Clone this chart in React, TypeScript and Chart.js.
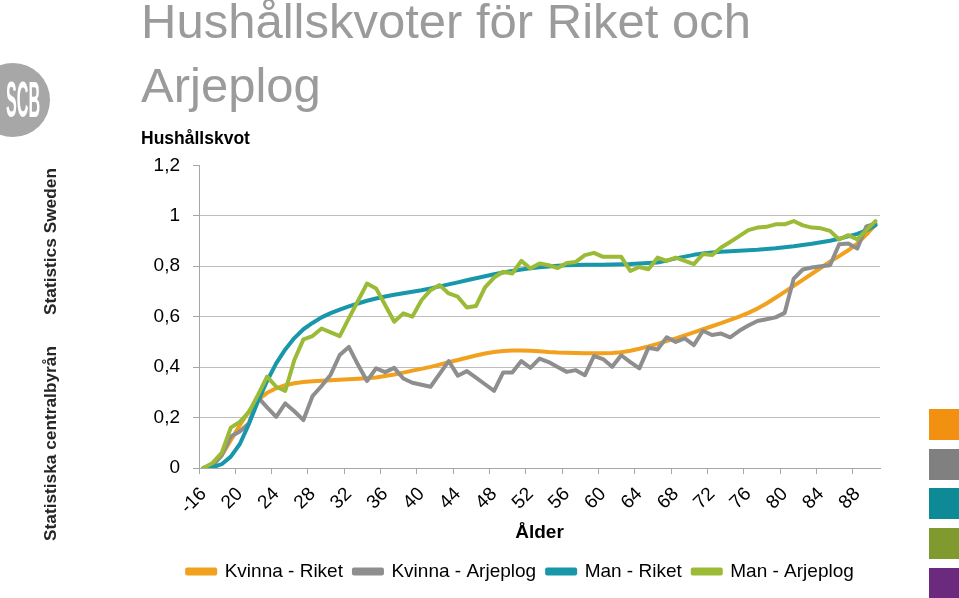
import React, { useEffect, useRef } from 'react';
import { Chart, registerables } from 'chart.js';

Chart.register(...registerables);

const FONT = "'Liberation Sans', Arial, sans-serif";

const ages: string[] = [
  '-16', '17', '18', '19', '20', '21', '22', '23', '24', '25', '26', '27', '28', '29', '30',
  '31', '32', '33', '34', '35', '36', '37', '38', '39', '40', '41', '42', '43', '44', '45',
  '46', '47', '48', '49', '50', '51', '52', '53', '54', '55', '56', '57', '58', '59', '60',
  '61', '62', '63', '64', '65', '66', '67', '68', '69', '70', '71', '72', '73', '74', '75',
  '76', '77', '78', '79', '80', '81', '82', '83', '84', '85', '86', '87', '88', '89', '90',
];

const kvinnaRiket: number[] = [
  0, 0.01, 0.05, 0.11, 0.17, 0.225, 0.27, 0.298, 0.316, 0.328, 0.336, 0.341, 0.344, 0.346, 0.348,
  0.35, 0.352, 0.354, 0.356, 0.359, 0.365, 0.371, 0.378, 0.386, 0.393, 0.401, 0.41, 0.419, 0.428, 0.437,
  0.446, 0.454, 0.46, 0.464, 0.466, 0.466, 0.465, 0.463, 0.46, 0.458, 0.457, 0.456, 0.455, 0.455, 0.455,
  0.456, 0.459, 0.465, 0.473, 0.482, 0.492, 0.503, 0.514, 0.526, 0.538, 0.55, 0.562, 0.574, 0.587, 0.6,
  0.615, 0.632, 0.652, 0.675, 0.698, 0.722, 0.746, 0.77, 0.794, 0.818, 0.84, 0.863, 0.89, 0.925, 0.965,
];

const kvinnaArjeplog: number[] = [
  0, 0.01, 0.05, 0.125, 0.145, 0.178, 0.28, 0.24, 0.203, 0.256, 0.225, 0.19, 0.285, 0.325, 0.37,
  0.448, 0.48, 0.41, 0.345, 0.395, 0.38, 0.397, 0.355, 0.338, 0.33, 0.322, 0.373, 0.424, 0.366, 0.384,
  0.358, 0.332, 0.306, 0.379, 0.379, 0.424, 0.397, 0.434, 0.42, 0.4, 0.381, 0.388, 0.368, 0.444, 0.432,
  0.401, 0.447, 0.42, 0.395, 0.477, 0.47, 0.518, 0.5, 0.514, 0.487, 0.544, 0.527, 0.533, 0.518, 0.544,
  0.565, 0.583, 0.59, 0.597, 0.615, 0.751, 0.787, 0.795, 0.8, 0.804, 0.887, 0.89, 0.87, 0.958, 0.969,
];

const manRiket: number[] = [
  0, 0.003, 0.015, 0.045, 0.095, 0.175, 0.265, 0.345, 0.415, 0.47, 0.515, 0.55, 0.575, 0.597, 0.614,
  0.628, 0.641, 0.652, 0.663, 0.672, 0.68, 0.687, 0.693, 0.699, 0.705, 0.712, 0.72, 0.728, 0.736, 0.744,
  0.752, 0.76, 0.768, 0.775, 0.781, 0.787, 0.792, 0.796, 0.799, 0.802, 0.804, 0.805, 0.806, 0.806, 0.806,
  0.807, 0.808, 0.809, 0.811, 0.813, 0.815, 0.822, 0.831, 0.838, 0.845, 0.85, 0.854, 0.857, 0.859, 0.861,
  0.863, 0.865, 0.868, 0.871, 0.875, 0.879, 0.884, 0.889, 0.895, 0.901, 0.909, 0.918, 0.928, 0.942, 0.962,
];

const manArjeplog: number[] = [
  0, 0.02, 0.06, 0.16, 0.183, 0.222, 0.29, 0.362, 0.322, 0.306, 0.428, 0.51, 0.523, 0.553, 0.538,
  0.523, 0.593, 0.662, 0.731, 0.712, 0.646, 0.58, 0.613, 0.6, 0.665, 0.705, 0.725, 0.692, 0.679, 0.636,
  0.642, 0.716, 0.755, 0.778, 0.771, 0.821, 0.791, 0.811, 0.804, 0.793, 0.813, 0.817, 0.844, 0.853, 0.837,
  0.837, 0.837, 0.781, 0.797, 0.788, 0.834, 0.821, 0.834, 0.821, 0.808, 0.848, 0.844, 0.874, 0.896, 0.919,
  0.943, 0.953, 0.956, 0.966, 0.966, 0.979, 0.962, 0.953, 0.95, 0.94, 0.906, 0.923, 0.906, 0.943, 0.979,
];

const seriesNames: string[] = ['Kvinna - Riket', 'Kvinna - Arjeplog', 'Man - Riket', 'Man - Arjeplog'];
const seriesColors: string[] = ['#F2A11F', '#8E8E8E', '#1897AB', '#9BBB36'];
const titleLines: string[] = ['Hushållskvoter för Riket och', 'Arjeplog'];
const yAxisTitle = 'Hushållskvot';
const xAxisTitle = 'Ålder';
const sideSquares: string[] = ['#F29111', '#808080', '#0E8A96', '#7F9A2F', '#6B2A7E'];

const AXIS_GRAY = '#A6A6A6';
const GRID_GRAY = '#BDBDBD';
const TRANSPARENT = 'rgba(0,0,0,0)';

// nudges the centred legend row to the right, as in the original slide
const legendShift = {
  id: 'legendShift',
  afterLayout(chart: any) {
    const lg = chart.legend;
    if (lg) {
      lg.left += 10;
      lg.right += 10;
    }
  },
};

export default function App() {
  const canvasRef = useRef<HTMLCanvasElement | null>(null);

  useEffect(() => {
    const canvas = canvasRef.current;
    if (!canvas) return;
    const values = [kvinnaRiket, kvinnaArjeplog, manRiket, manArjeplog];
    const chart = new Chart(canvas, {
      type: 'line',
      data: {
        labels: ages,
        datasets: seriesNames.map((name, i) => ({
          label: name,
          data: values[i],
          borderColor: seriesColors[i],
          backgroundColor: seriesColors[i],
          borderWidth: 4,
          pointRadius: 0,
          pointHoverRadius: 0,
          tension: 0,
          fill: false,
          borderJoinStyle: 'round' as const,
          borderCapStyle: 'round' as const,
          order: 4 - i,
        })),
      },
      plugins: [legendShift],
      options: {
        responsive: false,
        maintainAspectRatio: false,
        animation: false,
        events: [],
        layout: { padding: { left: 141, right: 79, top: 0, bottom: 7 } },
        font: { family: FONT },
        plugins: {
          title: {
            display: true,
            text: titleLines,
            align: 'start',
            color: '#9B9B9B',
            font: { family: FONT, size: 49, weight: 'normal', lineHeight: 64 / 49 },
            padding: { top: -8, bottom: 0 },
          },
          subtitle: {
            display: true,
            text: yAxisTitle,
            align: 'start',
            color: '#000000',
            font: { family: FONT, size: 17.5, weight: 'bold', lineHeight: 1.2 },
            padding: { top: 8.8, bottom: 15.5 },
          },
          legend: {
            display: true,
            position: 'bottom',
            labels: {
              boxWidth: 28,
              boxHeight: 4,
              padding: 11,
              color: '#000000',
              font: { family: FONT, size: 19 },
              sort: (a: any, b: any) => a.datasetIndex - b.datasetIndex,
            },
          },
          tooltip: { enabled: false },
        },
        scales: {
          x: {
            type: 'category',
            offset: true,
            afterFit: (scale: any) => {
              scale.height = 83;
            },
            grid: {
              offset: true,
              drawOnChartArea: false,
              drawTicks: true,
              tickLength: 6,
              color: (c: any) => (c.index % 4 === 0 ? AXIS_GRAY : TRANSPARENT),
              tickColor: (c: any) => (c.index % 4 === 0 ? AXIS_GRAY : TRANSPARENT),
            },
            border: { display: true, color: AXIS_GRAY, width: 1 },
            ticks: {
              autoSkip: false,
              maxRotation: 45,
              minRotation: 45,
              padding: 9,
              color: '#000000',
              font: { family: FONT, size: 19 },
              callback: (_v: any, i: number) => (i % 4 === 0 ? ages[i] : ''),
            },
            title: {
              display: true,
              text: xAxisTitle,
              color: '#000000',
              font: { family: FONT, size: 19, weight: 'bold', lineHeight: 1.2 },
              padding: { top: 0, bottom: 7 },
            },
          },
          y: {
            min: 0,
            max: 1.2,
            afterFit: (scale: any) => {
              scale.width = 58;
            },
            grid: {
              color: (c: any) => (c.tick && c.tick.value > 1.1 ? TRANSPARENT : GRID_GRAY),
              tickColor: AXIS_GRAY,
              tickLength: 6,
              drawTicks: true,
            },
            border: { display: true, color: AXIS_GRAY, width: 1 },
            ticks: {
              stepSize: 0.2,
              padding: 13,
              color: '#000000',
              font: { family: FONT, size: 19 },
              callback: (v: any) => String(Math.round(Number(v) * 10) / 10).replace('.', ','),
            },
          },
        },
      },
    } as any);
    return () => chart.destroy();
  }, []);

  return (
    <div
      style={{
        position: 'absolute',
        left: 0,
        top: 0,
        width: 959,
        height: 598,
        overflow: 'hidden',
        background: '#ffffff',
        fontFamily: FONT,
      }}
    >
      <canvas
        ref={canvasRef}
        width={959}
        height={598}
        style={{ position: 'absolute', left: 0, top: 0, width: 959, height: 598 }}
      />
      {/* SCB logo */}
      <div
        style={{
          position: 'absolute',
          left: -24,
          top: 63,
          width: 74,
          height: 74,
          borderRadius: '50%',
          background: '#A7A7A7',
          overflow: 'hidden',
        }}
      >
        <div
          style={{
            position: 'absolute',
            left: 30,
            top: 12,
            fontSize: 45,
            lineHeight: '45px',
            fontWeight: 'bold',
            color: '#ffffff',
            transform: 'scale(0.36, 1.1)',
            transformOrigin: '0 0',
            whiteSpace: 'nowrap',
          }}
        >
          SCB
        </div>
      </div>
      {/* vertical side texts */}
      <div
        style={{
          position: 'absolute',
          left: 39.5,
          top: 541,
          transform: 'rotate(-90deg)',
          transformOrigin: '0 0',
          whiteSpace: 'nowrap',
          fontSize: 17.3,
          lineHeight: '20px',
          fontWeight: 'bold',
          color: '#262626',
        }}
      >
        Statistiska centralbyrån
      </div>
      <div
        style={{
          position: 'absolute',
          left: 39.5,
          top: 315,
          transform: 'rotate(-90deg)',
          transformOrigin: '0 0',
          whiteSpace: 'nowrap',
          fontSize: 17.3,
          lineHeight: '20px',
          fontWeight: 'bold',
          color: '#262626',
        }}
      >
        Statistics Sweden
      </div>
      {/* right side colour squares */}
      {sideSquares.map((c, i) => (
        <div
          key={c}
          style={{
            position: 'absolute',
            left: 929,
            top: 409 + i * 39.7,
            width: 30,
            height: 31,
            background: c,
          }}
        />
      ))}
    </div>
  );
}
